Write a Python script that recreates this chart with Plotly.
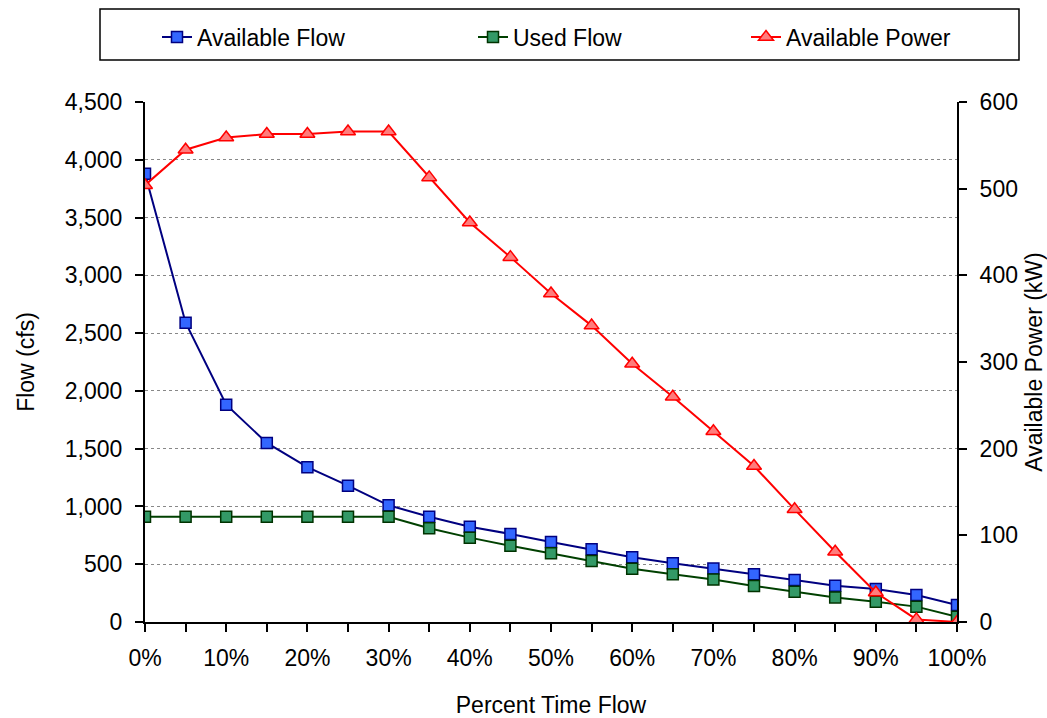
import plotly.graph_objects as go

# Percent of time a given flow is equalled or exceeded
percent_time = [0, 5, 10, 15, 20, 25, 30, 35, 40, 45, 50,
                55, 60, 65, 70, 75, 80, 85, 90, 95, 100]
percent_ticks = [0, 10, 20, 30, 40, 50, 60, 70, 80, 90, 100]
percent_labels = ["0%", "10%", "20%", "30%", "40%", "50%",
                  "60%", "70%", "80%", "90%", "100%"]

# Flows in cfs
available_flow = [3880, 2590, 1880, 1550, 1340, 1180, 1010, 911, 825, 762, 692,
                  629, 560, 508, 463, 413, 363, 314, 286, 234, 147]
used_flow = [910, 910, 910, 910, 910, 910, 910, 811, 730, 660, 594,
             528, 461, 413, 367, 312, 262, 213, 176, 133, 46]

# Power in kW
available_power = [504, 545, 559, 563, 563, 566, 566, 513, 461, 421, 379,
                   342, 298, 260, 220, 180, 130, 81, 34, 3, 0]

FONT = "Liberation Sans, Arial, sans-serif"
FS = 23
W, H = 1047, 718
L, R, T, B = 145, 90, 102, 96
PW, PH = W - L - R, H - T - B


def px_x(x):
    return (x - L) / PW


def px_y(y):
    return (H - B - y) / PH


fig = go.Figure()

fig.add_trace(go.Scatter(
    x=percent_time, y=available_flow, name="Available Flow",
    mode="lines+markers", legend="legend",
    line=dict(color="#000080", width=2),
    marker=dict(symbol="square", size=11, color="#3366FF",
                line=dict(color="#000080", width=1.5)),
))
fig.add_trace(go.Scatter(
    x=percent_time, y=used_flow, name="Used Flow",
    mode="lines+markers", legend="legend2",
    line=dict(color="#004000", width=2),
    marker=dict(symbol="square", size=11, color="#339966",
                line=dict(color="#003300", width=1.5)),
))
fig.add_trace(go.Scatter(
    x=percent_time, y=available_power, name="Available Power", yaxis="y2",
    mode="lines+markers", legend="legend3",
    line=dict(color="#FF0000", width=2),
    marker=dict(symbol="triangle-up", size=13, color="#FF7C7C",
                line=dict(color="#FF0000", width=1.5)),
))

legend_common = dict(
    orientation="h", yanchor="middle", xanchor="left",
    y=px_y(37), bgcolor="rgba(0,0,0,0)", borderwidth=0,
    font=dict(family=FONT, size=FS, color="#000000"),
)

tick_font = dict(family=FONT, size=FS, color="#000000")

fig.update_layout(
    width=W, height=H,
    margin=dict(l=L, r=R, t=T, b=B, autoexpand=False),
    paper_bgcolor="white", plot_bgcolor="white",
    font=dict(family=FONT, size=FS, color="#000000"),
    showlegend=True,
    legend=dict(x=px_x(157), **legend_common),
    legend2=dict(x=px_x(473), **legend_common),
    legend3=dict(x=px_x(746), **legend_common),
    xaxis=dict(
        range=[0, 100], tickmode="array",
        tickvals=percent_ticks, ticktext=percent_labels,
        ticks="outside", ticklen=8, tickwidth=2, tickcolor="black",
        ticklabelstandoff=6, automargin=False,
        minor=dict(dtick=5, ticks="outside", ticklen=8, tickwidth=2, tickcolor="black"),
        showline=True, linecolor="black", linewidth=2, showgrid=False, zeroline=False,
        title=dict(text="Percent Time Flow", standoff=29, font=tick_font),
        tickfont=tick_font,
    ),
    yaxis=dict(
        range=[0, 4500], dtick=500, tickformat=",",
        ticks="outside", ticklen=8, tickwidth=2, tickcolor="black",
        ticklabelstandoff=8, automargin=False,
        showline=True, linecolor="black", linewidth=2,
        showgrid=True, gridcolor="#888888", griddash="dot", gridwidth=1,
        zeroline=False,
        title=dict(text="Flow (cfs)", standoff=24, font=tick_font),
        tickfont=tick_font,
    ),
    yaxis2=dict(
        range=[0, 600], dtick=100, overlaying="y", side="right",
        ticks="outside", ticklen=8, tickwidth=2, tickcolor="black",
        ticklabelstandoff=8, automargin=False,
        showline=True, linecolor="black", linewidth=2,
        showgrid=False, zeroline=False,
        title=dict(text="Available Power (kW)", standoff=16, font=tick_font),
        tickfont=tick_font,
    ),
    shapes=[dict(
        type="rect", xref="paper", yref="paper",
        x0=px_x(100), x1=px_x(1019), y0=px_y(60), y1=px_y(9),
        line=dict(color="black", width=1.5), fillcolor="rgba(0,0,0,0)",
    )],
)

fig.write_html("out.html")
